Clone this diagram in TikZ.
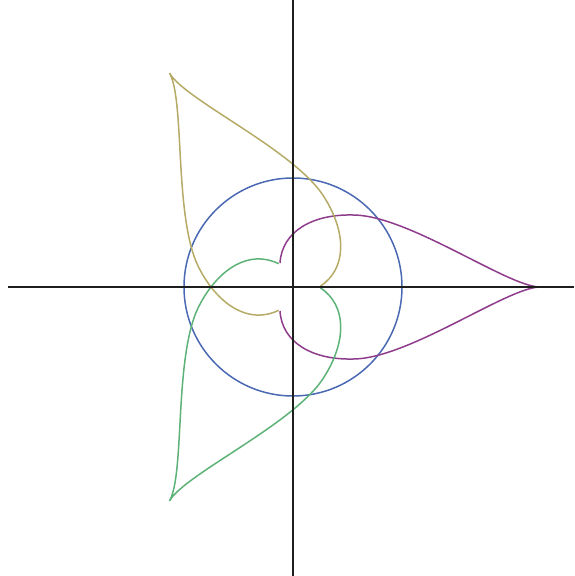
\documentclass[tikz,border=0pt]{standalone}
\usepackage{xcolor}
\usepackage{tikz}
\definecolor{circblue}{HTML}{4A69B2}
\definecolor{dropviolet}{HTML}{8E3D8C}
\definecolor{dropolive}{HTML}{B5AA66}
\definecolor{dropgreen}{HTML}{5DB277}
\definecolor{axisgray}{HTML}{1E1E1E}

\begin{document}
\begin{tikzpicture}[
x=1pt,y=1pt,
axis/.style={draw=axisgray,line width=1.3pt},
curve/.style={line width=1.5pt},
drop/.pic={
\draw[pic actions] (-13,24) .. controls (-11,56) and (20,73) .. (60,72)
 .. controls (115,72) and (215,0) .. (247,0)
 .. controls (215,0) and (115,-72) .. (60,-72)
 .. controls (20,-73) and (-11,-56) .. (-13,-24);
}
]
\useasboundingbox (-293,-289) rectangle (281,287);
\coordinate (o) at (0,0);
\coordinate (xl) at (-285,0);
\coordinate (xr) at (281,0);
\coordinate (yb) at (0,-289);
\coordinate (yt) at (0,287);
% circle and the three drops
\draw[curve,circblue] (o) circle[radius=109];
\pic[curve,dropviolet] at (o) {drop};
\pic[curve,dropolive,rotate=120] at (o) {drop};
\pic[curve,dropgreen,rotate=240] at (o) {drop};
% axes
\draw[axis] (xl) -- (xr);
\draw[axis] (yb) -- (yt);
\end{tikzpicture}
\end{document}
